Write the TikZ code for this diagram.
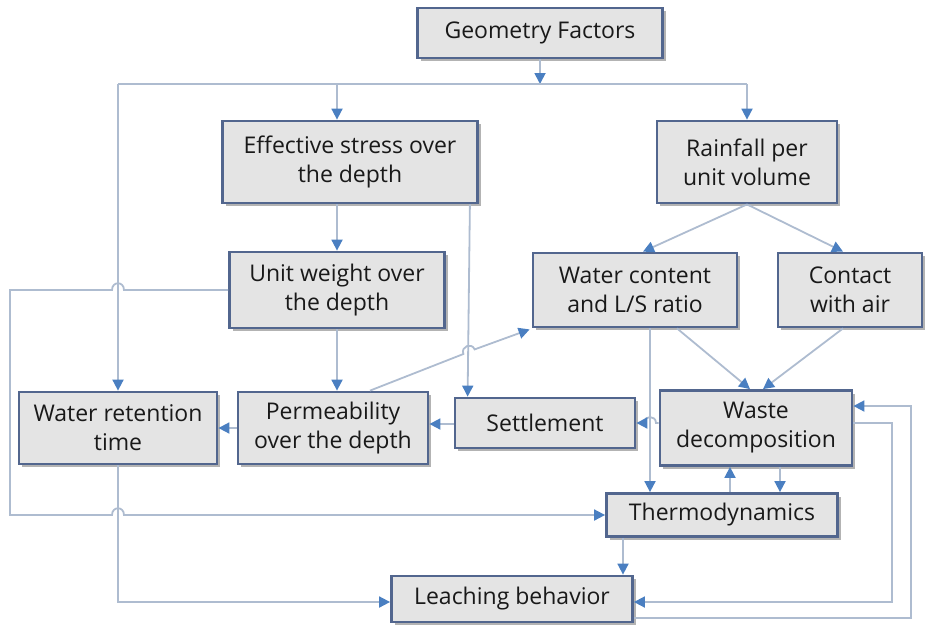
\documentclass[tikz,border=0pt]{standalone}
\usepackage{fontspec}
\setmainfont{Open Sans}
\usetikzlibrary{arrows.meta,shadows,calc}
\definecolor{boxborder}{HTML}{52668E}
\definecolor{boxfill}{HTML}{E4E4E4}
\definecolor{linec}{HTML}{AEBCD0}
\definecolor{arrowc}{HTML}{4A7FC1}
\begin{document}
\begin{tikzpicture}[x=1pt,y=-1pt,
  box/.style={draw=boxborder,line width=2.8pt,fill=boxfill,rectangle,
    align=center,inner sep=0pt,font=\fontsize{23}{29}\selectfont,text=black!90,
    drop shadow={shadow xshift=3pt,shadow yshift=-3pt,fill=black!50,opacity=0.6}},
  line/.style={draw=linec,line width=1.8pt},
  arr/.style={line,-{Triangle[length=11pt,width=11pt,color=arrowc]}}]
\useasboundingbox (0,0) rectangle (925,625);
% nodes
\node[box,minimum width=245pt,minimum height=50pt] (geo) at (540,33) {Geometry Factors};
\node[box,minimum width=255pt,minimum height=82pt] (eff) at (350,162) {Effective stress over\\the depth};
\node[box,minimum width=180pt,minimum height=82pt] (rain) at (747,162) {Rainfall per\\unit volume};
\node[box,minimum width=215pt,minimum height=76pt] (unit) at (337,290) {Unit weight over\\the depth};
\node[box,minimum width=204pt,minimum height=74pt] (wc) at (635,290) {Water content\\and L/S ratio};
\node[box,minimum width=144pt,minimum height=74pt] (air) at (850,290) {Contact\\with air};
\node[box,minimum width=198pt,minimum height=72pt] (wrt) at (118,428) {Water retention\\time};
\node[box,minimum width=190pt,minimum height=72pt] (perm) at (333,428) {Permeability\\over the depth};
\node[box,minimum width=180pt,minimum height=50pt] (settle) at (545,423) {Settlement};
\node[box,minimum width=192pt,minimum height=75pt] (waste) at (756,428) {Waste\\decomposition};
\node[box,minimum width=231pt,minimum height=43pt] (thermo) at (722,515) {Thermodynamics};
\node[box,minimum width=241pt,minimum height=46pt] (leach) at (512,599) {Leaching behavior};
% coordinates
\coordinate (bus) at (540,84);
% connectors from geometry
\draw[arr] (geo.south) -- (bus);
\draw[line] (wrt.north |- bus) -- (rain.north |- bus);
\draw[arr] (unit.north |- bus) -- (unit.north |- eff.north);
\draw[arr] (rain.north |- bus) -- (rain.north);
\draw[arr] (wrt.north |- bus) -- (wrt.north);
% effective stress
\draw[arr] (unit.north |- eff.south) -- (unit.north);
\draw[arr] ($(eff.south east)+(-9,0)$) -- ($(settle.north west)+(14,0)$);
% rainfall
\draw[arr] (rain.south) -- ($(wc.north)+(8,0)$);
\draw[arr] (rain.south) -- ($(air.north)+(-7,0)$);
% to waste
\draw[arr] ($(wc.south)+(42,0)$) -- ($(waste.north)+(-6,0)$);
\draw[arr] ($(air.south)+(-7,0)$) -- ($(waste.north)+(7,0)$);
% water content to thermo
\draw[arr] ($(wc.south)+(15,0)$) -- ($(thermo.north -| wc.south)+(15,0)$);
% waste to settlement with hop
\draw[arr] (waste.west |- 0,423) -- (656,423) .. controls (656,415) and (644,415) .. (644,423) -- (settle.east |- 0,423);
% settlement to permeability
\draw[arr] (settle.west |- 0,424) -- (perm.east |- 0,424);
% permeability to water retention
\draw[arr] (perm.west) -- (wrt.east);
% permeability to water content with hop
\draw[arr] ($(perm.north)+(37,0)$) -- (463.4,354) .. controls (460.4,346.6) and (471.6,342) .. (474.6,349.4) -- ($(wc.south west)+(-2,1)$);
% unit weight to permeability
\draw[arr] (unit.south) -- (unit.south |- perm.north);
% unit weight to thermodynamics
\draw[arr] (unit.west) -- (124,290) .. controls (124,281) and (112,281) .. (112,290) -- (10,290) -- (10,515)
  -- (112,515) .. controls (112,506) and (124,506) .. (124,515) -- (thermo.west);
% water retention to leaching
\draw[arr] (wrt.south) -- (wrt.south |- 0,602) -- (leach.west |- 0,602);
% thermo to leaching
\draw[arr] (thermo.south -| 623,0) -- (leach.north -| 623,0);
% waste <-> thermo
\draw[arr] (thermo.north -| 730,0) -- (waste.south -| 730,0);
\draw[arr] (waste.south -| 780,0) -- (thermo.north -| 780,0);
% waste to leaching
\draw[arr] (waste.east |- 0,423) -- (892,423) -- (892,602) -- (leach.east |- 0,602);
% leaching to waste
\draw[arr] (leach.east |- 0,618) -- (911,618) -- (911,406) -- (waste.east |- 0,406);
\end{tikzpicture}
\end{document}
